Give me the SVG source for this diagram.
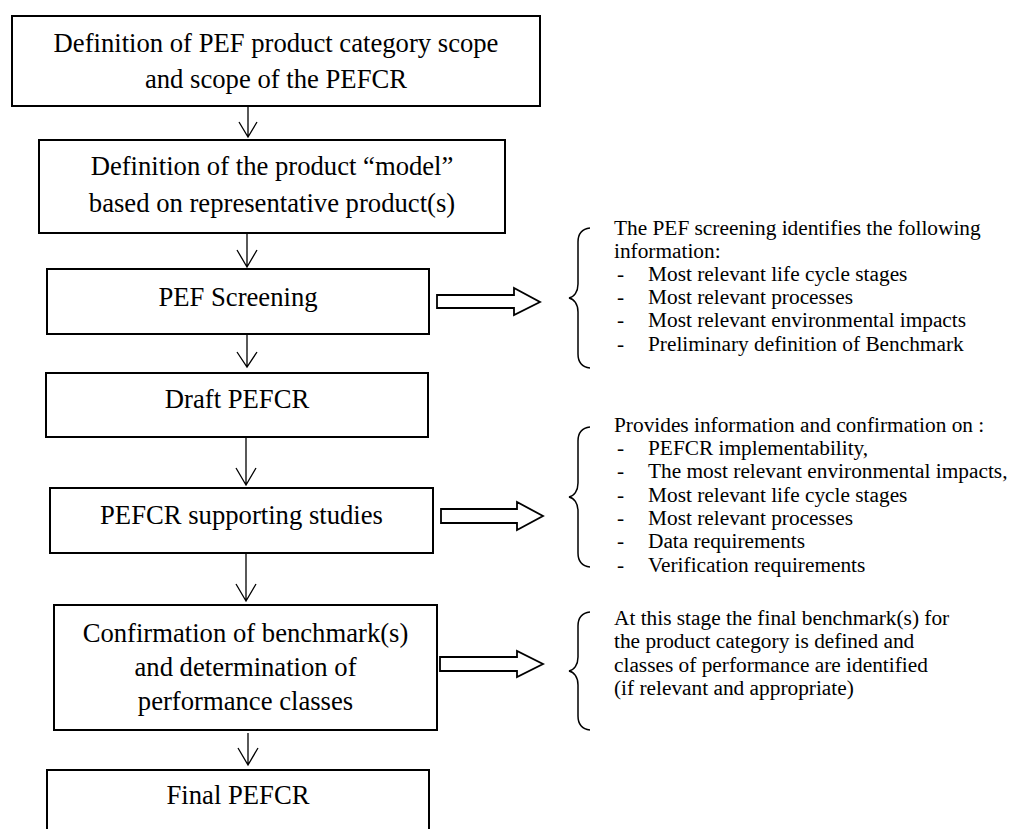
<svg xmlns="http://www.w3.org/2000/svg" width="1009" height="829" viewBox="0 0 1009 829">
  <defs>
    <style>
      .box { fill: #ffffff; stroke: #000000; stroke-width: 2; }
      .lbl { font-family: "Liberation Serif", "Times New Roman", serif; font-size: 26.67px; fill: #000000; text-anchor: middle; }
      .note { font-family: "Liberation Serif", "Times New Roman", serif; font-size: 21.33px; fill: #000000; }
      .flow { fill: none; stroke: #000000; stroke-width: 1.3; }
      .fat { fill: #ffffff; stroke: #000000; stroke-width: 1.8; stroke-linejoin: miter; }
      .brace { fill: none; stroke: #000000; stroke-width: 1.5; }
    </style>
  </defs>
  <rect width="1009" height="829" fill="#ffffff"/>

  <!-- process steps -->
  <g id="scope">
    <rect class="box" x="12" y="16" width="528" height="90"/>
    <text class="lbl" x="276" y="52">Definition of PEF product category scope</text>
    <text class="lbl" x="276" y="88">and scope of the PEFCR</text>
  </g>
  <g id="model">
    <rect class="box" x="39" y="140" width="466" height="93"/>
    <text class="lbl" x="272" y="175">Definition of the product “model”</text>
    <text class="lbl" x="272" y="212">based on representative product(s)</text>
  </g>
  <g id="screening">
    <rect class="box" x="47" y="269" width="382" height="65"/>
    <text class="lbl" x="238" y="306">PEF Screening</text>
  </g>
  <g id="draft">
    <rect class="box" x="46" y="373" width="382" height="64"/>
    <text class="lbl" x="237" y="408">Draft PEFCR</text>
  </g>
  <g id="studies">
    <rect class="box" x="50" y="488" width="383" height="65"/>
    <text class="lbl" x="241.5" y="524">PEFCR supporting studies</text>
  </g>
  <g id="benchmark">
    <rect class="box" x="54" y="605" width="383" height="125"/>
    <text class="lbl" x="245.5" y="642">Confirmation of benchmark(s)</text>
    <text class="lbl" x="245.5" y="676">and determination of</text>
    <text class="lbl" x="245.5" y="710">performance classes</text>
  </g>
  <g id="final">
    <rect class="box" x="47" y="770" width="382" height="80"/>
    <text class="lbl" x="238" y="804">Final PEFCR</text>
  </g>

  <!-- connectors -->
  <g id="connectors">
    <path class="flow" d="M248,106 V137 M239,122 L248,137 L257,122"/>
    <path class="flow" d="M247,233 V267 M237,250 L247,267 L257,250"/>
    <path class="flow" d="M247,334 V367 M237,352 L247,367 L257,352"/>
    <path class="flow" d="M246,437 V485 M236,468 L246,485 L256,468"/>
    <path class="flow" d="M246,553 V601 M236,584 L246,601 L256,584"/>
    <path class="flow" d="M248,733 V765 M238,748 L248,765 L258,748"/>
    <path class="fat" d="M437,295 H514 V288 L540,302 L514,315 V308 H437 Z"/>
    <path class="fat" d="M441,509 H517 V502 L543,516 L517,530 V523 H441 Z"/>
    <path class="fat" d="M440,657 H517 V651 L543,664 L517,677 V671 H440 Z"/>
  </g>

  <!-- screening notes -->
  <g id="screening-notes">
    <path class="brace" d="M590,228 C582,229 578,234 578,242 L578,284 C578,292 574,297 569,298 C574,299 578,304 578,312 L578,354 C578,362 582,367 590,368"/>
    <text class="note" x="614" y="235">The PEF screening identifies the following</text>
    <text class="note" x="614" y="258">information:</text>
    <text class="note" x="617" y="281">-</text>
    <text class="note" x="648" y="281">Most relevant life cycle stages</text>
    <text class="note" x="617" y="304">-</text>
    <text class="note" x="648" y="304">Most relevant processes</text>
    <text class="note" x="617" y="327">-</text>
    <text class="note" x="648" y="327">Most relevant environmental impacts</text>
    <text class="note" x="617" y="351">-</text>
    <text class="note" x="648" y="351">Preliminary definition of Benchmark</text>
  </g>

  <!-- supporting study notes -->
  <g id="study-notes">
    <path class="brace" d="M590,427 C582,428 578,433 578,441 L578,483 C578,491 574,496 569,497 C574,498 578,503 578,511 L578,553 C578,561 582,566 590,567"/>
    <text class="note" x="614" y="432">Provides information and confirmation on :</text>
    <text class="note" x="617" y="455">-</text>
    <text class="note" x="648" y="455">PEFCR implementability,</text>
    <text class="note" x="617" y="478">-</text>
    <text class="note" x="648" y="478">The most relevant environmental impacts,</text>
    <text class="note" x="617" y="502">-</text>
    <text class="note" x="648" y="502">Most relevant life cycle stages</text>
    <text class="note" x="617" y="525">-</text>
    <text class="note" x="648" y="525">Most relevant processes</text>
    <text class="note" x="617" y="548">-</text>
    <text class="note" x="648" y="548">Data requirements</text>
    <text class="note" x="617" y="572">-</text>
    <text class="note" x="648" y="572">Verification requirements</text>
  </g>

  <!-- benchmark notes -->
  <g id="benchmark-notes">
    <path class="brace" d="M590,612 C582,613 578,618 578,626 L578,657 C578,665 574,670 569,671 C574,672 578,677 578,685 L578,716 C578,724 582,729 590,730"/>
    <text class="note" x="614" y="625">At this stage the final benchmark(s) for</text>
    <text class="note" x="614" y="648">the product category is defined and</text>
    <text class="note" x="614" y="672">classes of performance are identified</text>
    <text class="note" x="614" y="695">(if relevant and appropriate)</text>
  </g>
</svg>
